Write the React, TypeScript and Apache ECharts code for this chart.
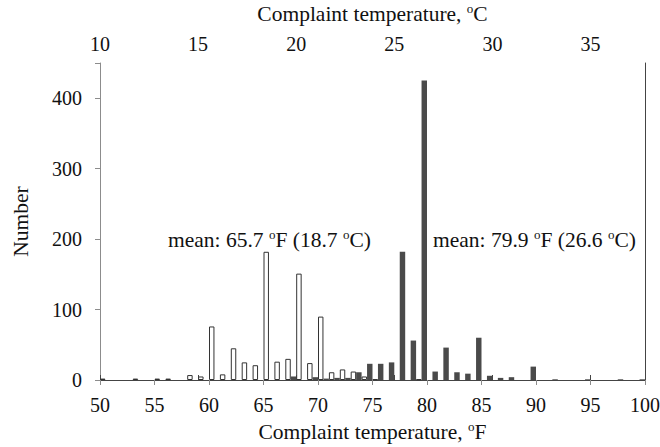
import React, { useEffect, useRef } from "react";
import * as echarts from "echarts";

// Complaint temperatures (°F) and counts
const coldF = [50, 53, 55, 56, 58, 59, 60, 61, 62, 63, 64, 65, 66, 67, 68, 69, 70, 71, 72, 73, 74, 75, 79];
const coldN = [2, 2, 2, 2, 7, 5, 76, 8, 45, 25, 21, 182, 26, 30, 151, 24, 90, 11, 15, 12, 5, 1, 1];
const hotF = [68, 70, 71, 72, 73, 74, 75, 76, 77, 78, 79, 80, 81, 82, 83, 84, 85, 86, 87, 88, 90, 92, 95, 98, 100];
const hotN = [5, 4, 2, 3, 3, 11, 23, 23, 25, 182, 56, 425, 12, 46, 11, 9, 60, 6, 3, 4, 19, 1, 1, 1, 1];

const fTicks = [50, 55, 60, 65, 70, 75, 80, 85, 90, 95, 100];
const cTicks = [10, 15, 20, 25, 30, 35];
const yTicks = [0, 100, 200, 300, 400];

const coldMean = "mean: 65.7 {sup|o}F (18.7 {sup|o}C)";
const hotMean = "mean: 79.9 {sup|o}F (26.6 {sup|o}C)";

const FONT = "Liberation Serif";
const rich = {
  sup: { fontSize: 13, lineHeight: 14, verticalAlign: "top" as const, fontFamily: FONT, color: "#111" },
};

export default function App() {
  const ref = useRef<HTMLDivElement>(null);
  useEffect(() => {
    if (!ref.current) return;
    const chart = echarts.init(ref.current, undefined, { renderer: "svg" });
    const fToC = (f: number) => ((f - 32) * 5) / 9;
    const tickLabel = (ticks: number[], margin: number) => ({
      show: true,
      fontSize: 20,
      color: "#111",
      margin,
      fontFamily: FONT,
      formatter: (v: number) => (ticks.indexOf(Math.round(v * 1000) / 1000) >= 0 ? String(v) : ""),
    });
    chart.setOption({
      animation: false,
      backgroundColor: "#fff",
      textStyle: { fontFamily: FONT },
      grid: { left: 100, right: 15, top: 63, bottom: 67, containLabel: false, outerBoundsMode: "none" },
      xAxis: [
        {
          type: "value",
          position: "bottom",
          min: 50,
          max: 100,
          interval: 5,
          name: "Complaint temperature, {sup|o}F",
          nameLocation: "middle",
          nameGap: 40,
          nameTextStyle: { fontSize: 21.5, lineHeight: 24, color: "#111", fontFamily: FONT, rich },
          axisLine: { show: true, lineStyle: { color: "#8c8c8c", width: 1 } },
          axisTick: { show: true, inside: false, length: 5, lineStyle: { color: "#8c8c8c" } },
          axisLabel: tickLabel(fTicks, 15),
          splitLine: { show: false },
        },
        {
          type: "value",
          position: "top",
          min: 10,
          max: fToC(100),
          interval: 5,
          name: "Complaint temperature, {sup|o}C",
          nameLocation: "middle",
          nameGap: 37,
          nameTextStyle: { fontSize: 21.5, lineHeight: 24, color: "#111", fontFamily: FONT, rich },
          axisLine: { show: true, lineStyle: { color: "#444", width: 1 } },
          axisTick: { show: true, inside: false, length: 5, lineStyle: { color: "#444" } },
          axisLabel: tickLabel(cTicks, 9),
          splitLine: { show: false },
        },
      ],
      yAxis: [
        {
          type: "value",
          position: "left",
          min: 0,
          max: 450,
          interval: 100,
          name: "Number",
          nameLocation: "middle",
          nameGap: 68,
          nameTextStyle: { fontSize: 21.5, color: "#111", fontFamily: FONT },
          axisLine: { show: true, lineStyle: { color: "#8c8c8c", width: 1 } },
          axisTick: { show: true, inside: false, length: 5, lineStyle: { color: "#8c8c8c" } },
          axisLabel: tickLabel(yTicks, 18),
          splitLine: { show: false },
        },
        {
          type: "value",
          position: "right",
          min: 0,
          max: 450,
          axisLine: { show: true, lineStyle: { color: "#444", width: 1 } },
          axisTick: { show: false },
          axisLabel: { show: false },
          splitLine: { show: false },
        },
      ],
      series: [
        {
          type: "bar",
          name: "hot",
          xAxisIndex: 0,
          yAxisIndex: 0,
          data: hotF.map((f, i) => [f, hotN[i]]),
          barWidth: "50%",
          barGap: "0%",
          itemStyle: { color: "#4a4a4a" },
        },
        {
          type: "bar",
          name: "cold",
          xAxisIndex: 0,
          yAxisIndex: 0,
          data: coldF.map((f, i) => [f, coldN[i]]),
          barWidth: "50%",
          barGap: "0%",
          itemStyle: { color: "#ffffff", borderColor: "#333", borderWidth: 1 },
        },
      ],
      graphic: [
        {
          type: "text",
          left: 168,
          top: 228,
          style: { text: coldMean, fontSize: 21.5, lineHeight: 24, fontFamily: FONT, fill: "#111", rich },
        },
        {
          type: "text",
          left: 433,
          top: 228,
          style: { text: hotMean, fontSize: 21.5, lineHeight: 24, fontFamily: FONT, fill: "#111", rich },
        },
      ],
    });
    return () => chart.dispose();
  }, []);
  return <div ref={ref} style={{ width: 660, height: 447, position: "absolute", left: 0, top: 0 }} />;
}
